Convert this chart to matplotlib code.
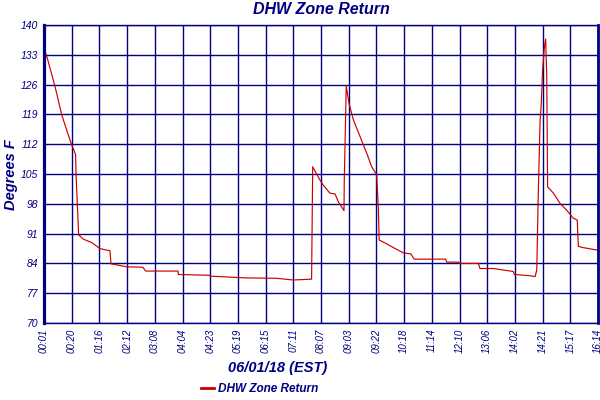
import matplotlib
matplotlib.use("Agg")
import matplotlib.pyplot as plt

# x in tick-interval units (ticks are equally spaced), y in degrees F
x_pos = [0, 0.12, 0.40, 0.64, 0.82, 1.00, 1.08, 1.14, 1.16, 1.22, 1.25, 1.42, 1.72,
         2.02, 2.20, 2.38, 2.42, 2.99, 3.57, 3.67, 4.43, 4.84, 4.85, 5.99, 6.00,
         7.26, 8.40, 9.00, 9.66, 9.68, 9.70, 9.96, 10.08, 10.32, 10.51, 10.62,
         10.83, 10.84, 10.89, 10.91, 11.01, 11.17, 11.41, 11.65, 11.83, 12.01,
         12.07, 12.10, 12.37, 12.73, 12.97, 13.25, 13.36, 14.50, 14.54, 14.96,
         15.02, 15.68, 15.74, 16.22, 16.94, 16.98, 17.54, 17.73, 17.79, 17.84,
         17.91, 17.95, 18.00, 18.06, 18.11, 18.15, 18.17, 18.18, 18.39, 18.63,
         18.87, 19.11, 19.25, 19.29, 19.47, 20.0]
temps = [134.5, 132.2, 125.5, 118.9, 115.3, 111.8, 110.6, 109.5, 104.4, 95.4, 90.7,
         89.7, 88.9, 87.5, 87.2, 87.0, 83.9, 83.2, 83.1, 82.2, 82.2, 82.2, 81.4,
         81.2, 81.0, 80.6, 80.5, 80.1, 80.3, 93.4, 106.7, 103.6, 102.4, 100.5,
         100.3, 98.5, 96.4, 103.6, 118.5, 125.7, 121.6, 117.7, 113.8, 109.9,
         106.7, 104.8, 96.9, 89.5, 88.6, 87.3, 86.5, 86.2, 85.0, 85.0, 84.3, 84.3,
         84.0, 84.0, 82.8, 82.8, 82.1, 81.4, 81.1, 80.9, 82.5, 99.3, 117.7, 121.2,
         129.4, 134.5, 136.7, 127.9, 110.6, 102.0, 100.5, 98.1, 96.5, 94.6, 94.2,
         88.0, 87.7, 87.1]

x_tick_labels = ["00:01", "00:20", "01:16", "02:12", "03:08", "04:04", "04:23",
                 "05:19", "06:15", "07:11", "08:07", "09:03", "09:22", "10:18",
                 "11:14", "12:10", "13:06", "14:02", "14:21", "15:17", "16:14"]
y_ticks = [70, 77, 84, 91, 98, 105, 112, 119, 126, 133, 140]

navy = "#000080"
red = "#cc0000"
fam = ["Liberation Sans Narrow", "Liberation Sans", "DejaVu Sans"]

fig = plt.figure(figsize=(6, 4), dpi=100)
ax = fig.add_axes([44/600, 77/400, 554/600, 298/400])

ax.plot(x_pos, temps, color=red, lw=0.85, label="DHW Zone Return")

ax.set_xlim(0, 20)
ax.set_ylim(70, 140)
ax.set_xticks(range(len(x_tick_labels)))
ax.set_xticklabels(x_tick_labels, rotation=90, fontsize=7, style="italic",
                   color=navy, family=fam)
ax.set_yticks(y_ticks)
ax.set_yticklabels([str(v) for v in y_ticks], fontsize=7.5, style="italic",
                   color=navy, family=fam)
ax.tick_params(length=0, pad=4)
ax.grid(True, color=navy, lw=1.0)
ax.set_axisbelow(True)
for s in ax.spines.values():
    s.set_color(navy)
    s.set_linewidth(1.0)
ax.spines["left"].set_linewidth(2.3)
ax.spines["right"].set_linewidth(2.0)

fig.text(0.535, 0.975, "DHW Zone Return", ha="center", va="center", fontsize=11.5,
         fontweight="bold", style="italic", color=navy, family=fam)
fig.text(0.018, 0.5625, "Degrees F", ha="center", va="center", rotation=90,
         fontsize=10.5, fontweight="bold", style="italic", color=navy, family=fam)
fig.text(0.463, 0.08, "06/01/18 (EST)", ha="center", va="center", fontsize=10.5,
         fontweight="bold", style="italic", color=navy, family=fam)

leg = fig.legend(loc="center", bbox_to_anchor=(0.433, 0.028), frameon=False,
                 handlelength=1.1, handletextpad=0.3,
                 prop={"family": fam, "style": "italic", "weight": "bold", "size": 8.5})
for t in leg.get_texts():
    t.set_color(navy)
for h in leg.get_lines():
    h.set_linewidth(2)

fig.savefig("out.png", dpi=100)
